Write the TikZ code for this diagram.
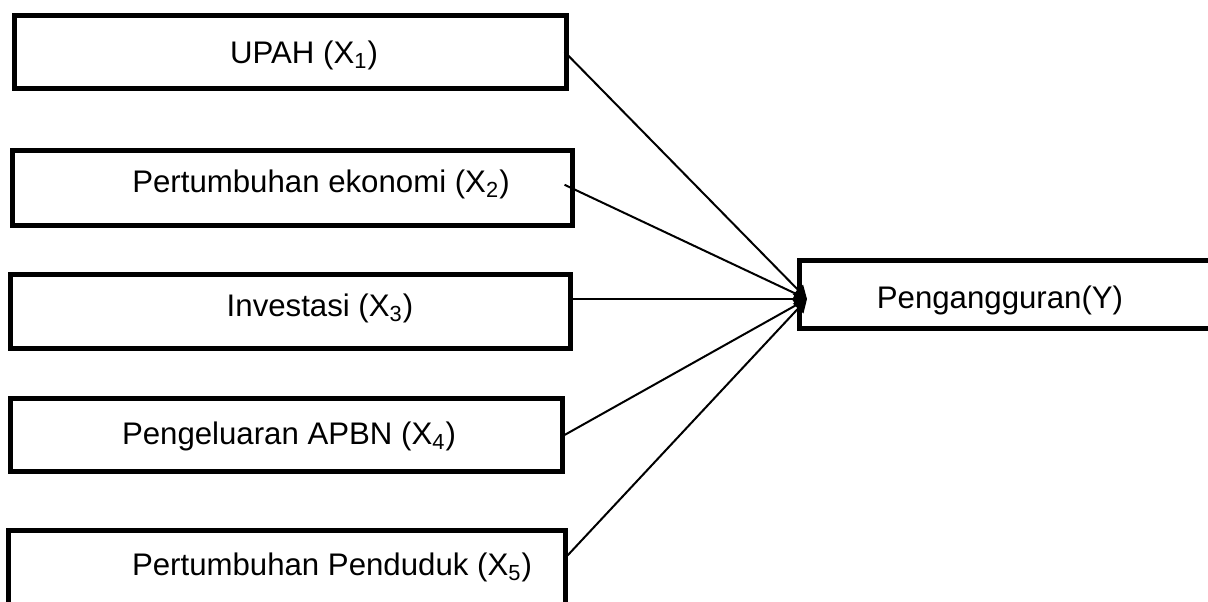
\documentclass[tikz,border=0pt]{standalone}
\usepackage{fontspec}
\setmainfont{Liberation Sans}
\usetikzlibrary{arrows.meta}
\tikzset{
  varbox/.style={draw, line width=2.5pt, rectangle, inner sep=0pt},
  varlabel/.style={anchor=base, inner sep=0pt, font=\fontsize{15.6}{18}\selectfont},
  link/.style={line width=1pt, -{Triangle[length=6.5pt,width=7pt]}}
}

\begin{document}
\begin{tikzpicture}[x=0.5pt, y=-0.5pt]
% page frame (right and bottom of the picture are cut off)
\useasboundingbox (0,0) rectangle (1208,601);
\clip (0,0) rectangle (1208,601);
% boxes
\node[varbox, minimum width=275.75pt, minimum height=36.75pt] (upah) at (290.25,51.75) {};
\node[varbox, minimum width=280pt, minimum height=37.25pt] (ekonomi) at (292,187.75) {};
\node[varbox, minimum width=280pt, minimum height=37pt] (investasi) at (290,311.5) {};
\node[varbox, minimum width=276pt, minimum height=36.5pt] (apbn) at (286,435) {};
\node[varbox, minimum width=278.5pt, minimum height=37pt] (penduduk) at (286.5,567.5) {};
\node[varbox, minimum width=208pt, minimum height=34pt] (pengangguran) at (1007,294.5) {};
% annotations
\node[varlabel] (tupah) at (304,63) {UPAH (X\textsubscript{1})};
\node[varlabel] (tekonomi) at (321,192) {Pertumbuhan ekonomi (X\textsubscript{2})};
\node[varlabel] (tinvestasi) at (320,316) {Investasi (X\textsubscript{3})};
\node[varlabel] (tapbn) at (289,444) {Pengeluaran APBN (X\textsubscript{4})};
\node[varlabel] (tpenduduk) at (332,575) {Pertumbuhan Penduduk (X\textsubscript{5})};
\node[varlabel] (tpengangguran) at (1000,308) {Pengangguran(Y)};
% arrows into Y
\coordinate (hub) at (807,299);
\draw[link] ([xshift=-2pt]upah.east) -- (hub);
\draw[link] ([xshift=-5pt,yshift=1.5pt]ekonomi.east) -- (hub);
\draw[link] (investasi.east |- hub) -- (hub);
\draw[link] (apbn.east) -- (hub);
\draw[link] ([yshift=6pt]penduduk.east) -- (hub);
\end{tikzpicture}
\end{document}
